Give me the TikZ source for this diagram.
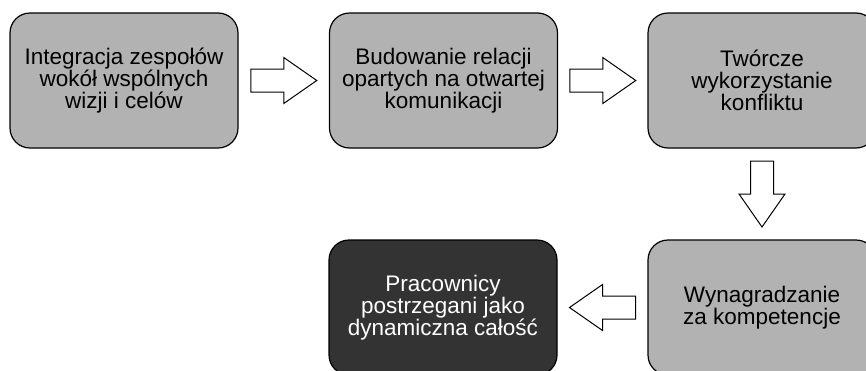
\documentclass[tikz,border=0pt]{standalone}
\usepackage{fontspec}
\setmainfont{Liberation Sans}
\usetikzlibrary{calc}
\tikzset{
	stage/.style    = {draw, rectangle, rounded corners=20pt, fill=black!30,
		minimum width=228pt, minimum height=135pt, align=center,
		inner sep=0pt, font=\fontsize{22.5}{22}\selectfont},
	final/.style    = {stage, fill=black!80, text=white}, % last box
	blockarrow/.pic = {\draw[fill=white, line width=1pt]
		(-33,-11.5) -- (0,-11.5) -- (0,-23) -- (33,0) -- (0,23) -- (0,11.5)
		-- (-33,11.5) -- cycle;}
}

\begin{document}
\begin{tikzpicture}[x=1pt, y=-1pt, line width=1.2pt]
		\useasboundingbox (0,0) rectangle (866,370);
		\clip (0,0) rectangle (866,370);
		\draw
		node at (124,80.5) [stage] (b1) {Integracja zespołów\\wokół wspólnych\\wizji i celów}
		node at (443.5,80.5) [stage] (b2) {Budowanie relacji\\opartych na otwartej\\komunikacji}
		node at (762,80.5) [stage] (b3) {Twórcze\\wykorzystanie\\konfliktu}
		node at (762,307.5) [stage] (b4) {Wynagradzanie\\za kompetencje}
		node at (443,307.5) [final] (b5) {Pracownicy\\postrzegani jako\\dynamiczna całość};
		
		\pic at ($(b1.east)!0.5!(b2.west)$) {blockarrow};
		\pic at ($(b2.east)!0.5!(b3.west)$) {blockarrow};
		\pic[rotate=-90] at ($(b3.south)!0.5!(b4.north)$) {blockarrow};
		\pic[rotate=180] at ($(b4.west)!0.5!(b5.east)$) {blockarrow};
		
	\end{tikzpicture}
\end{document}
